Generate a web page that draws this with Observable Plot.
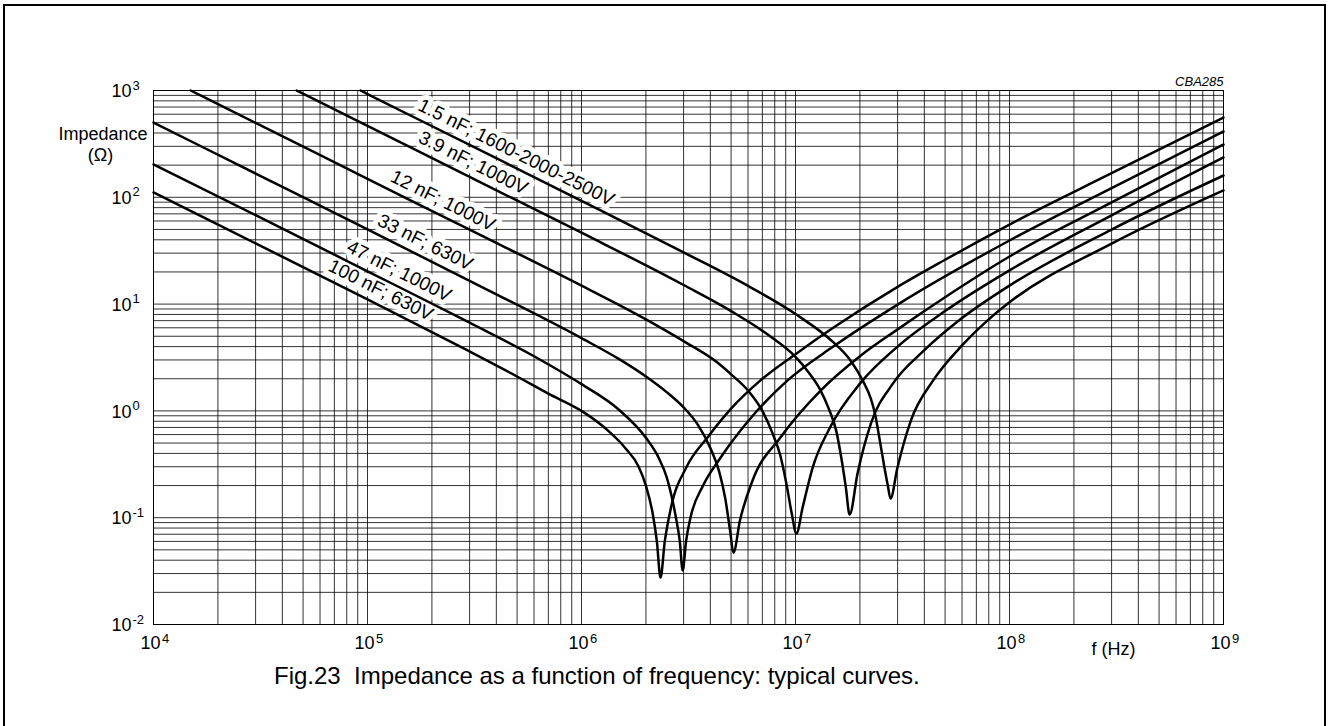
<!DOCTYPE html>
<html><head><meta charset="utf-8">
<script src="https://cdn.jsdelivr.net/npm/d3@7"></script>
<script src="https://cdn.jsdelivr.net/npm/@observablehq/plot@0.6"></script>
<style>
body{margin:0;background:#fff;font-family:"Liberation Sans",Arial,sans-serif;}
#wrap{position:relative;width:1328px;height:726px;overflow:hidden;background:#fff;}
#border{position:absolute;left:3px;top:4px;width:1323px;height:740px;border:2px solid #000;box-sizing:border-box;}
#chart{position:absolute;left:0;top:0;}
#caption{position:absolute;left:274px;top:662px;font-size:24px;line-height:28px;white-space:pre;color:#000;}
</style></head>
<body><div id="wrap"><div id="chart"></div><div id="border"></div><div id="caption">Fig.23  Impedance as a function of frequency: typical curves.</div></div>
<script>
// ---- data: [frequency (Hz), impedance (ohm)] ----
const c100nF = [[1e4,111],[3e4,37],[1e5,11.1],[3e5,3.6],[5e5,2.1],[7e5,1.45],[1e6,1.0],[1.3e6,0.68],[1.6e6,0.45],[1.85e6,0.3],[2e6,0.2],[2.15e6,0.11],[2.25e6,0.06],[2.34e6,0.0275],[2.45e6,0.06],[2.62e6,0.125],[3.1e6,0.3],[3.88e6,0.564],[5e6,1.05],[6.86e6,1.93],[1e7,3.4],[1.5e7,6.0],[3e7,14.5],[5e7,26],[1e8,55.6],[3e8,168],[1e9,559]];
const c47nF = [[1e4,203],[3e4,68],[1e5,20.3],[3e5,6.7],[6e5,3.25],[1e6,1.78],[1.5e6,1.02],[2e6,0.56],[2.3e6,0.36],[2.5e6,0.24],[2.75e6,0.105],[2.88e6,0.06],[2.97e6,0.032],[3.08e6,0.06],[3.23e6,0.1],[3.7e6,0.2],[4.47e6,0.366],[6e6,0.8],[9.18e6,1.93],[1.5e7,4.0],[3e7,9.9],[1e8,39.4],[3e8,122],[1e9,413]];
const c33nF = [[1e4,501],[3e4,167],[1e5,50.1],[3e5,16.5],[1e6,4.8],[1.5e6,3.05],[2e6,2.1],[2.5e6,1.5],[3e6,1.08],[3.5e6,0.74],[4e6,0.45],[4.4e6,0.27],[4.7e6,0.15],[4.95e6,0.075],[5.13e6,0.047],[5.5e6,0.094],[6.3e6,0.223],[8.5e6,0.564],[1.31e7,1.55],[2e7,3.25],[3e7,5.8],[5e7,11.6],[1e8,27.9],[3e8,89.5],[1e9,312]];
const c12nF = [[1.49e4,1000],[3e4,497],[1e5,149],[3e5,49.7],[1e6,14.9],[2e6,7.2],[3e6,4.5],[4.3e6,2.85],[5e6,2.2],[6e6,1.55],[7e6,1.0],[7.8e6,0.62],[8.5e6,0.38],[9.1e6,0.2],[9.6e6,0.11],[1.01e7,0.071],[1.08e7,0.125],[1.2e7,0.29],[1.45e7,0.70],[2e7,1.8],[3e7,4.0],[5e7,8.6],[1e8,20.7],[3e8,67.8],[1e9,236]];
const c3n9F = [[4.66e4,1000],[1e5,466],[3e5,155],[1e6,46.6],[3e6,15.1],[5e6,8.6],[7.5e6,5.1],[1e7,3.2],[1.15e7,2.3],[1.3e7,1.6],[1.43e7,1.05],[1.55e7,0.65],[1.65e7,0.33],[1.72e7,0.19],[1.79e7,0.107],[1.95e7,0.26],[2.25e7,0.76],[2.85e7,1.8],[4e7,3.7],[6e7,7.4],[1e8,14.9],[3e8,49.9],[1e9,160]];
const c1n5F = [[9.27e4,1000],[1e5,927],[3e5,309],[1e6,92.7],[3e6,30.5],[6e6,14.8],[1e7,8.07],[1.5e7,4.4],[1.8e7,3.0],[2.06e7,1.93],[2.25e7,1.3],[2.35e7,0.95],[2.45e7,0.6],[2.6e7,0.3],[2.7e7,0.2],[2.78e7,0.151],[2.99e7,0.29],[3.46e7,0.81],[4.4e7,1.93],[6e7,4.1],[8e7,7.2],[1e8,10.4],[3e8,36.8],[1e9,116]];

const curveNames = ["100nF","47nF","33nF","12nF","3.9nF","1.5nF"];
const curveData = [c100nF,c47nF,c33nF,c12nF,c3n9F,c1n5F];

const labelText = ["1.5 nF; 1600-2000-2500V","3.9 nF; 1000V","12 nF; 1000V","33 nF; 630V","47 nF; 1000V","100 nF; 630V"];
const labelF = [4.81e5,3.03e5,2.19e5,1.81e5,1.365e5,1.12e5];
const labelZ = [192.7,153.8,68,27.7,14.9,9.9];

const xDecades = [1e4,1e5,1e6,1e7,1e8,1e9];
const xExps = ["4","5","6","7","8","9"];
const yDecades = [1e-2,1e-1,1,10,100,1000];
const yExps = ["-2","-1","0","1","2","3"];
const mantissas = [1,2,3,4,5,6,7,8,9];

// ---- build tables ----
const rows = [];
curveData.forEach((arr, k) => arr.forEach(([f, z]) => rows.push({f, z, c: curveNames[k]})));
const labels = labelText.map((t, i) => ({t, f: labelF[i], z: labelZ[i]}));
const xGrid = xDecades.slice(0, -1).flatMap(d => mantissas.map(m => m * d)).concat([1e9]);
const yGrid = yDecades.slice(0, -1).flatMap(d => mantissas.map(m => m * d)).concat([1e3]);

const font = "Liberation Sans, Arial, sans-serif";
const chart = Plot.plot({
  width: 1328, height: 664,
  marginLeft: 153, marginRight: 105, marginTop: 90, marginBottom: 40,
  x: {type: "log", domain: [1e4, 1e9], axis: null},
  y: {type: "log", domain: [1e-2, 1e3], axis: null},
  style: {fontFamily: font, background: "white", color: "#000"},
  marks: [
    Plot.ruleX(xGrid, {x: d => d, stroke: "#000", strokeWidth: 1, strokeOpacity: 0.8}),
    Plot.ruleY(yGrid, {y: d => d, stroke: "#000", strokeWidth: 1, strokeOpacity: 0.8}),
    Plot.frame({stroke: "#000", strokeWidth: 1}),
    Plot.text(labels, {x: "f", y: "z", text: "t", rotate: 26.57, textAnchor: "middle", lineAnchor: "bottom",
      dy: -9, fontSize: 19, fill: "#000", stroke: "white", strokeWidth: 10, strokeLinejoin: "round", paintOrder: "stroke"}),
    Plot.line(rows, {x: "f", y: "z", z: "c", curve: "monotone-x", stroke: "#000", strokeWidth: 2.5}),
    // y tick labels
    Plot.text(yDecades, {y: d => d, frameAnchor: "left", text: () => "10", textAnchor: "end", dx: -22, dy: 1, fontSize: 18}),
    Plot.text(yDecades, {y: d => d, frameAnchor: "left", text: (d, i) => yExps[i], textAnchor: "start", dx: -21, dy: -5, fontSize: 13}),
    // x tick labels
    Plot.text(xDecades, {x: d => d, frameAnchor: "bottom", text: () => "10", textAnchor: "middle", dx: -3, dy: 24, fontSize: 18}),
    Plot.text(xDecades, {x: d => d, frameAnchor: "bottom", text: (d, i) => xExps[i], textAnchor: "start", dx: 8.5, dy: 18, fontSize: 13}),
    // axis titles
    Plot.text(["Impedance"], {frameAnchor: "top-left", text: d => d, textAnchor: "end", dx: -6, dy: 37, fontSize: 18}),
    Plot.text(["(\u03A9)"], {frameAnchor: "top-left", text: d => d, textAnchor: "middle", dx: -53, dy: 58, fontSize: 18}),
    Plot.text(["f (Hz)"], {frameAnchor: "bottom-right", text: d => d, textAnchor: "middle", dx: -110, dy: 30, fontSize: 18}),
    Plot.text(["CBA285"], {frameAnchor: "top-right", text: d => d, textAnchor: "end", dy: -14, fontSize: 13, fontStyle: "italic"})
  ]
});
document.getElementById("chart").appendChild(chart);
</script>
</body></html>
